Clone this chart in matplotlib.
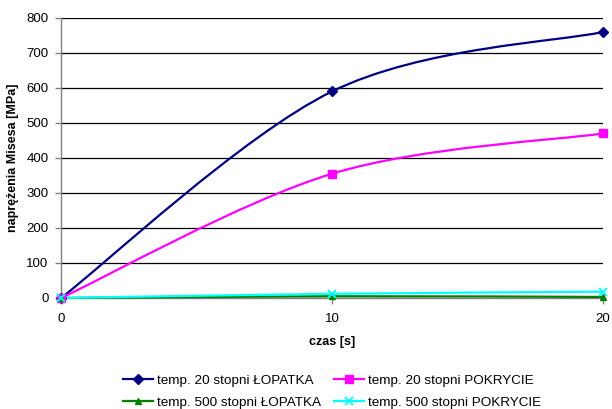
import matplotlib
matplotlib.use("Agg")
import matplotlib.pyplot as plt
from matplotlib.path import Path
from matplotlib.patches import PathPatch
from matplotlib.lines import Line2D

plt.rcParams['font.family'] = ['Liberation Sans', 'DejaVu Sans']

czas = [0, 10, 20]
lopatka_20 = [0, 590, 760]
pokrycie_20 = [0, 355, 470]
lopatka_500 = [0, 5, 3]
pokrycie_500 = [0, 12, 18]

series = [
    ("temp. 20 stopni ŁOPATKA", lopatka_20, "#000080", "D", 5),
    ("temp. 20 stopni POKRYCIE", pokrycie_20, "#FF00FF", "s", 5.5),
    ("temp. 500 stopni ŁOPATKA", lopatka_500, "#008000", "^", 5),
    ("temp. 500 stopni POKRYCIE", pokrycie_500, "#00FFFF", "x", 6),
]


def smooth_path(xs, ys):
    """Catmull-Rom style smoothed path through the points as cubic Bezier segments."""
    n = len(xs)
    verts = [(xs[0], ys[0])]
    codes = [Path.MOVETO]
    for i in range(n - 1):
        x0, y0 = xs[max(i - 1, 0)], ys[max(i - 1, 0)]
        x1, y1 = xs[i], ys[i]
        x2, y2 = xs[i + 1], ys[i + 1]
        x3, y3 = xs[min(i + 2, n - 1)], ys[min(i + 2, n - 1)]
        c1 = (x1 + (x2 - x0) / 6, y1 + (y2 - y0) / 6)
        c2 = (x2 - (x3 - x1) / 6, y2 - (y3 - y1) / 6)
        verts += [c1, c2, (x2, y2)]
        codes += [Path.CURVE4] * 3
    return Path(verts, codes)


fig = plt.figure(figsize=(6.12, 4.09), dpi=100)
ax = fig.add_axes([0.0997, 0.2714, 0.8853, 0.6846])

ax.set_xlim(0, 20)
ax.set_ylim(0, 800)
ax.set_yticks(range(0, 801, 100))
ax.set_xticks([0, 10, 20])
ax.grid(axis='y', color='black', linewidth=0.9)
ax.set_axisbelow(True)

for label, vals, color, marker, ms in series:
    patch = PathPatch(smooth_path(czas, vals), facecolor='none', edgecolor=color,
                      linewidth=1.6, zorder=3, clip_on=False)
    ax.add_patch(patch)
    ax.plot(czas, vals, linestyle='none', marker=marker, color=color, markersize=ms,
            markeredgewidth=1.3 if marker == 'x' else 1, zorder=4, clip_on=False)

for side in ['top', 'right']:
    ax.spines[side].set_visible(False)
for side in ['left', 'bottom']:
    ax.spines[side].set_color('#808080')
    ax.spines[side].set_linewidth(1.0)

ax.tick_params(axis='both', labelsize=9.5, length=4, color='#808080', width=1)
ax.tick_params(axis='y', pad=5)
ax.tick_params(axis='x', pad=7)

ax.set_xlabel("czas [s]", fontsize=9, fontweight='bold', labelpad=8)
ax.set_ylabel("naprężenia Misesa [MPa]", fontsize=9, fontweight='bold', labelpad=5)

order = [0, 2, 1, 3]
handles = [Line2D([], [], color=series[i][2], marker=series[i][3],
                  markersize=series[i][4], linewidth=1.6,
                  markeredgewidth=1.3 if series[i][3] == 'x' else 1)
           for i in order]
labels = [series[i][0] for i in order]
fig.legend(handles, labels, loc='center', bbox_to_anchor=(0.543, 0.043), ncol=2,
           frameon=False, fontsize=9.7, handlelength=2.2, handletextpad=0.3,
           columnspacing=1.0, labelspacing=0.7, borderpad=0)

fig.savefig("out.png", dpi=100)
